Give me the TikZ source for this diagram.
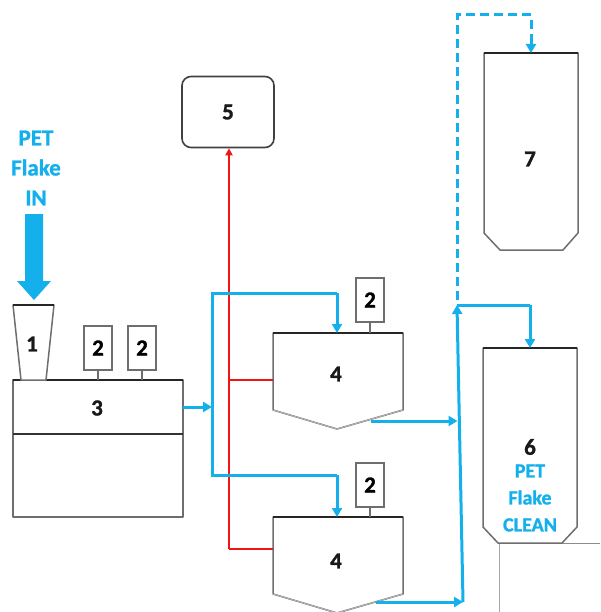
\documentclass[tikz,border=0pt]{standalone}
\usepackage{fontspec}
\setmainfont{Carlito}[BoldFont={Carlito Bold}, BoldFeatures={FakeBold=1.2}]
\usetikzlibrary{arrows.meta}
\definecolor{pblue}{RGB}{20,176,236}
\definecolor{pred}{RGB}{240,20,20}
\definecolor{edge}{RGB}{110,110,110}
\tikzset{
  flow/.style={draw=pblue, line width=3pt, -{Triangle[length=9pt,width=10pt]}},
  flowline/.style={draw=pblue, line width=3pt},
  redline/.style={draw=pred, line width=2.8pt},
  vessel/.style={draw=edge, line width=1.5pt, fill=white, line join=round},
  toplid/.style={draw=black!85, line width=2.2pt},
  num/.style={font=\fontsize{23}{24}\selectfont\bfseries, text=black!90},
  bluetxt/.style={font=\fontsize{23}{30}\selectfont\bfseries, text=pblue, align=center},
  bluetxt6/.style={font=\fontsize{20}{27}\selectfont\bfseries, text=pblue, align=center},
  motor/.style={draw=edge, line width=1.5pt, fill=white, minimum width=28pt, minimum height=44pt, inner sep=0pt, font=\fontsize{23}{24}\selectfont\bfseries},
}
\begin{document}
\begin{tikzpicture}[x=1pt,y=-1pt]
\useasboundingbox (0,0) rectangle (600,612);

% ---- thin gray background lines (bottom right)
\coordinate (g1) at (562,543);
\coordinate (g2) at (600,543);
\coordinate (g3) at (499,543);
\coordinate (g4) at (499,612);
\draw[draw=black!45, line width=0.8pt] (g1) -- (g2);
\draw[draw=black!35, line width=0.8pt] (g3) -- (g4);

% ---- PET Flake IN and big arrow
\node[bluetxt] (petin) at (36,168) {PET\\Flake\\IN};
\fill[pblue] (25,214) -- (43,214) -- (43,281) -- (51,281) -- (34,300) -- (17,281) -- (25,281) -- cycle;

% ---- Box 3
\draw[vessel] (13,380) rectangle (183,517);
\draw[draw=black!80, line width=2pt] (13,434) -- (183,434);
\draw[toplid] (13,380) -- (183,380);
\node[num] (n3) at (97,408) {3};
\coordinate (b3r) at (183,407);

% ---- Box 1 (hopper)
\draw[vessel] (13,305) -- (54,305) -- (46,380) -- (21,380) -- cycle;
\draw[toplid] (13,305) -- (54,305);
\node[num] (n1) at (32,344) {1};

% ---- motors on box 3
\node[motor] (m1) at (98,348) {2};
\node[motor] (m2) at (142,348) {2};
\draw[draw=edge, line width=1.2pt] (m1.south) -- (m1.south |- 0,380);
\draw[draw=edge, line width=1.2pt] (m2.south) -- (m2.south |- 0,380);

% ---- Box 5
\node[draw=black!75, line width=1.6pt, rounded corners=9pt, minimum width=92pt, minimum height=71pt, inner sep=0pt, fill=white, num] (n5) at (228,112) {5};

% ---- Box 4 upper
\draw[vessel] (273,333) -- (403,333) -- (403,410) -- (337,429) -- (273,410) -- cycle;
\draw[draw=black!30, line width=1pt] (403,410) -- (337,429) -- (273,410);
\draw[toplid] (273,333) -- (403,333);
\node[num] (n4a) at (336,374) {4};
\node[motor] (m3) at (370,300) {2};
\draw[draw=edge, line width=1.2pt] (m3.south) -- (m3.south |- 0,333);
\coordinate (t4a) at (337,333);
\coordinate (o4a) at (371,421);
\coordinate (r4a) at (273,380);

% ---- Box 4 lower
\draw[vessel] (273,517) -- (403,517) -- (403,594) -- (337,613) -- (273,594) -- cycle;
\draw[draw=black!30, line width=1pt] (403,594) -- (337,613) -- (273,594);
\draw[toplid] (273,517) -- (403,517);
\node[num] (n4b) at (336,561) {4};
\node[motor] (m4) at (370,485) {2};
\draw[draw=edge, line width=1.2pt] (m4.south) -- (m4.south |- 0,517);
\coordinate (t4b) at (337,517);
\coordinate (o4b) at (376,602);
\coordinate (r4b) at (273,549);

% ---- Box 7
\draw[vessel] (484,53) -- (578,53) -- (578,233) -- (563,250) -- (500,250) -- (484,233) -- cycle;
\draw[toplid] (484,53) -- (578,53);
\node[num] (n7) at (530,159) {7};
\coordinate (t7) at (531,53);

% ---- Box 6
\draw[vessel] (483,348) -- (577,348) -- (577,527) -- (562,543) -- (498,543) -- (483,527) -- cycle;
\draw[toplid] (483,348) -- (577,348);
\node[num] (n6) at (530,447) {6};
\node[bluetxt6] (pet6) at (530,498) {PET\\Flake\\CLEAN};
\coordinate (t6) at (530,348);

% ---- Red lines
\coordinate (rv) at (229,549);
\draw[redline, -{Triangle[length=7pt,width=7pt]}] (rv) -- (rv |- n5.south);
\draw[redline] (229,380) -- (r4a);
\draw[redline] (rv) -- (r4b);

% ---- Blue flows
\coordinate (split) at (212,407);
\draw[flow] (b3r) -- (split);
\draw[flowline] (split) -- (212,293) -- (337,293);
\draw[flow] (337,293) -- (t4a);
\draw[flowline] (split) -- (212,475) -- (337,475);
\draw[flow] (337,475) -- (t4b);

\coordinate (vt) at (457,305);
\coordinate (vb) at (463,602);
\draw[flow] (o4a) -- (457.5,421);
\draw[flow] (o4b) -- (vb);
\draw[flow] (vb) -- (vt);
\draw[flowline] (457,305) -- (530,305);
\draw[flow] (530,305) -- (t6);

\draw[draw=pblue, line width=3pt, dash pattern=on 9pt off 5pt] (457,300) -- (457,15) -- (531,15) -- (531,36);
\draw[flow] (531,36) -- (t7);
\end{tikzpicture}
\end{document}
